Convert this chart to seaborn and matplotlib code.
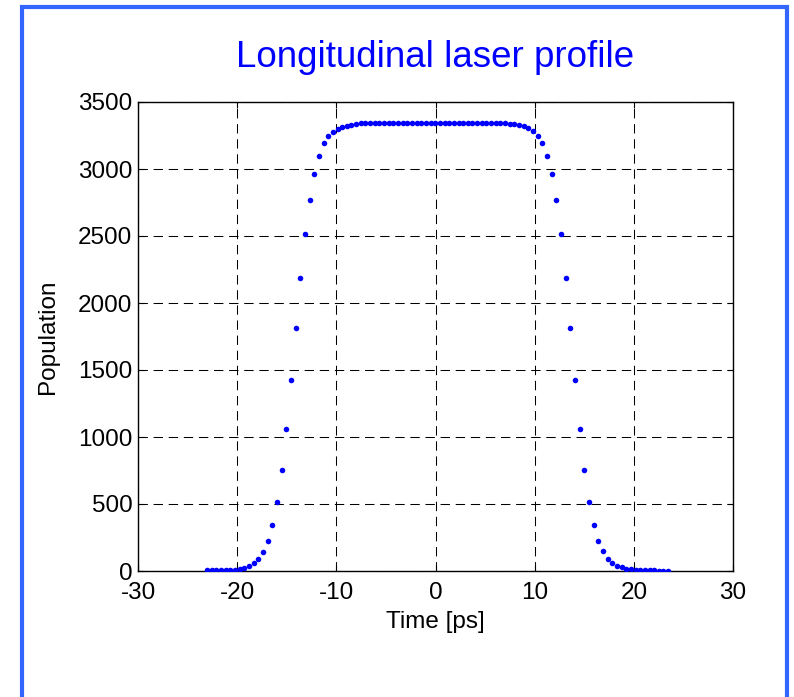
import matplotlib
matplotlib.use("Agg")
import matplotlib.pyplot as plt
import seaborn as sns
import pandas as pd
from matplotlib.patches import Rectangle

# Data
time_ps = [
    -23.03, -22.56, -22.09, -21.62, -21.15, -20.68, -20.21, -19.74, -19.27, -18.80,
    -18.33, -17.86, -17.40, -16.93, -16.46, -15.99, -15.52, -15.05, -14.58, -14.11,
    -13.64, -13.17, -12.70, -12.23, -11.76, -11.29, -10.82, -10.35, -9.88, -9.41,
    -8.95, -8.48, -8.01, -7.54, -7.07, -6.60, -6.13, -5.66, -5.19, -4.72,
    -4.25, -3.78, -3.31, -2.84, -2.37, -1.90, -1.43, -0.96, -0.50, -0.03,
    0.45, 0.92, 1.39, 1.86, 2.33, 2.79, 3.26, 3.73, 4.20, 4.67,
    5.14, 5.61, 6.08, 6.55, 7.02, 7.49, 7.96, 8.43, 8.90, 9.37,
    9.84, 10.31, 10.78, 11.25, 11.72, 12.19, 12.66, 13.13, 13.60, 14.07,
    14.53, 15.00, 15.47, 15.94, 16.41, 16.88, 17.35, 17.82, 18.29, 18.76,
    19.23, 19.70, 20.17, 20.64, 21.11, 21.58, 22.05, 22.52, 22.99, 23.46,
]
population = [
    5, 5, 5, 5, 5, 5, 7, 15, 25, 37,
    60, 90, 140, 222, 344, 518, 754, 1060, 1429, 1817,
    2186, 2514, 2771, 2965, 3097, 3191, 3245, 3275, 3302, 3314,
    3322, 3328, 3335, 3340, 3343, 3345, 3345, 3345, 3345, 3345,
    3345, 3345, 3345, 3345, 3345, 3345, 3345, 3345, 3345, 3345,
    3345, 3345, 3345, 3345, 3345, 3345, 3345, 3345, 3345, 3345,
    3345, 3345, 3345, 3343, 3340, 3335, 3333, 3326, 3320, 3305,
    3280, 3245, 3191, 3097, 2965, 2771, 2514, 2186, 1817, 1429,
    1060, 754, 518, 344, 222, 149, 92, 57, 37, 27,
    17, 12, 7, 7, 7, 7, 7, 0, 0, 0,
]
x_ticks = [-30, -20, -10, 0, 10, 20, 30]
y_ticks = [0, 500, 1000, 1500, 2000, 2500, 3000, 3500]

df = pd.DataFrame({"Time [ps]": time_ps, "Population": population})

sns.set_theme(style="white")
plt.rcParams["font.family"] = ["Liberation Sans", "DejaVu Sans"]

fig = plt.figure(figsize=(7.94, 6.97), dpi=100)
ax = fig.add_axes([138 / 794, 1 - 571 / 697, (733 - 138) / 794, (571 - 102) / 697])

sns.scatterplot(data=df, x="Time [ps]", y="Population", ax=ax,
                color="#0000ff", s=16, linewidth=0, zorder=3)

ax.set_xlim(-30, 30)
ax.set_ylim(0, 3500)
ax.set_xticks(x_ticks)
ax.set_yticks(y_ticks)
ax.set_xticklabels([str(t) for t in x_ticks])
ax.set_yticklabels([str(t) for t in y_ticks])

ax.grid(True, color="black", linestyle=(0, (9, 5.5)), linewidth=0.75)
ax.set_axisbelow(True)

for s in ax.spines.values():
    s.set_color("black")
    s.set_linewidth(1.0)
    s.set_visible(True)

ax.tick_params(axis="both", which="both", direction="in", length=4, width=0.8,
               top=True, right=True, bottom=True, left=True,
               labelsize=17.5, colors="black", pad=4)
ax.tick_params(axis="x", pad=8)

ax.set_xlabel("Time [ps]", fontsize=17.5, color="black", labelpad=5)
ax.set_ylabel("Population", fontsize=17.5, color="black", labelpad=14)
ax.set_title("Longitudinal laser profile", fontsize=26.5, color="#0000ff", pad=25)

fig.patches.append(Rectangle((21.5 / 794, -0.1), (787 - 21.5) / 794, 1.1 - 7 / 697,
                             transform=fig.transFigure, fill=False,
                             edgecolor="#3366ff", linewidth=3.0, zorder=10))

fig.savefig("out.png", dpi=100)
